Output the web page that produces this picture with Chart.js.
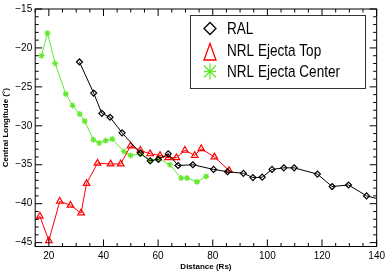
<!DOCTYPE html>
<html>
<head>
<meta charset="utf-8">
<script src="https://cdn.jsdelivr.net/npm/chart.js@4.4.0/dist/chart.umd.min.js"></script>
<style>
  html, body { margin: 0; padding: 0; background: #fff; }
</style>
</head>
<body>
<canvas id="c" width="389" height="272"></canvas>
<script>
// tick labels
const xTicks = [20, 40, 60, 80, 100, 120, 140];
const yTicks = [-45, -40, -35, -30, -25, -20, -15];

// RAL (last point lies past the axis and gets clipped)
const ralX = [31.2, 36.4, 39.4, 42.4, 46.8, 53.5, 57.1, 60.1, 63.7, 67.3, 72.7, 80.3, 85.4, 91.2, 94.7, 98.1, 101.7, 106.0, 109.8, 118.3, 123.7, 129.7, 136.3, 143.0];
const ralY = [-21.8, -25.8, -28.4, -28.9, -30.9, -33.5, -34.5, -34.3, -33.6, -35.1, -35.0, -35.6, -35.9, -36.1, -36.65, -36.6, -35.6, -35.4, -35.4, -36.2, -37.8, -37.6, -39.0, -39.6];

// NRL Ejecta Top (first point lies left of the axis)
const topX = [13.5, 16.7, 20.0, 24.0, 27.9, 31.8, 33.8, 37.8, 42.6, 46.3, 49.9, 53.5, 57.1, 60.7, 63.7, 66.7, 69.8, 73.4, 75.8, 80.6, 86.0];
const topY = [-42.6, -41.6, -44.75, -39.7, -40.2, -41.2, -37.4, -34.8, -34.9, -34.9, -32.6, -33.15, -33.6, -33.8, -34.1, -34.1, -33.15, -33.8, -32.95, -34.0, -35.75];

// NRL Ejecta Center
const ctrX = [17.3, 19.5, 22.3, 26.2, 28.7, 31.3, 33.1, 36.3, 38.4, 40.8, 43.2, 47.5, 49.9, 53.5, 57.1, 60.1, 64.3, 68.4, 70.6, 74.2, 77.6];
const ctrY = [-21.0, -18.1, -22.0, -25.9, -27.4, -28.5, -29.4, -31.8, -32.2, -31.9, -31.7, -33.3, -33.8, -33.6, -34.5, -34.2, -35.0, -36.7, -36.7, -37.2, -36.5];

const GREEN = '#62e82e';
const RED = '#ff0000';

const pts = (xs, ys) => xs.map((x, i) => ({ x: x, y: ys[i] }));
const minus = v => String(v).replace('-', '\u2212');

// inward ticks on all four sides, plus the frame
const frameTicks = {
  id: 'frameTicks',
  afterDraw(chart) {
    const { ctx, chartArea: a, scales: { x, y } } = chart;
    ctx.save();
    ctx.strokeStyle = '#000';
    ctx.lineWidth = 1;
    ctx.strokeRect(a.left, a.top, a.right - a.left, a.bottom - a.top);
    ctx.beginPath();
    for (let v = 15; v <= 140; v += 5) {
      const px = x.getPixelForValue(v);
      const len = xTicks.includes(v) ? 7 : 3.5;
      ctx.moveTo(px, a.bottom); ctx.lineTo(px, a.bottom - len);
      ctx.moveTo(px, a.top); ctx.lineTo(px, a.top + len);
    }
    for (let v = -45; v <= -15; v += 1) {
      const py = y.getPixelForValue(v);
      const len = yTicks.includes(v) ? 7 : 3.5;
      ctx.moveTo(a.left, py); ctx.lineTo(a.left + len, py);
      ctx.moveTo(a.right, py); ctx.lineTo(a.right - len, py);
    }
    ctx.stroke();
    ctx.restore();
  }
};

// boxed legend in the upper right
const legendLabels = ['RAL', 'NRL Ejecta Top', 'NRL Ejecta Center'];
const boxLegend = {
  id: 'boxLegend',
  afterDraw(chart) {
    const ctx = chart.ctx;
    const bx = 190, by = 15, bw = 175, bh = 73;
    ctx.save();
    ctx.fillStyle = '#fff';
    ctx.fillRect(bx, by, bw, bh);
    ctx.strokeStyle = '#333';
    ctx.lineWidth = 1;
    ctx.strokeRect(bx + 0.5, by + 0.5, bw, bh);

    const mx = 210;
    // diamond
    ctx.strokeStyle = '#000';
    ctx.lineWidth = 1.3;
    ctx.beginPath();
    ctx.moveTo(mx, 28.5 - 6); ctx.lineTo(mx + 6, 28.5); ctx.lineTo(mx, 28.5 + 6); ctx.lineTo(mx - 6, 28.5); ctx.closePath();
    ctx.stroke();
    // triangle
    ctx.strokeStyle = RED;
    ctx.beginPath();
    ctx.moveTo(mx, 43.5); ctx.lineTo(mx + 6, 60); ctx.lineTo(mx - 6, 60); ctx.closePath();
    ctx.stroke();
    // asterisk
    ctx.strokeStyle = GREEN;
    ctx.beginPath();
    const sy = 71.5;
    ctx.moveTo(mx, sy - 8); ctx.lineTo(mx, sy + 8);
    ctx.moveTo(mx - 6, sy); ctx.lineTo(mx + 6, sy);
    ctx.moveTo(mx - 6, sy - 6); ctx.lineTo(mx + 6, sy + 6);
    ctx.moveTo(mx - 6, sy + 6); ctx.lineTo(mx + 6, sy - 6);
    ctx.stroke();

    // condensed look: squeeze the text horizontally
    ctx.fillStyle = '#000';
    ctx.font = '17px "Liberation Sans", Arial, sans-serif';
    ctx.textBaseline = 'middle';
    ctx.textAlign = 'left';
    const sx = 113 / ctx.measureText(legendLabels[2]).width;
    ctx.translate(227, 0);
    ctx.scale(sx, 1);
    ctx.fillText(legendLabels[0], 0, 29);
    ctx.fillText(legendLabels[1], 0, 51);
    ctx.fillText(legendLabels[2], 0, 72);
    ctx.restore();
  }
};

new Chart(document.getElementById('c'), {
  type: 'line',
  data: {
    datasets: [
      {
        label: 'RAL',
        data: pts(ralX, ralY),
        borderColor: '#000',
        borderWidth: 1,
        pointStyle: 'rectRot',
        pointRadius: 3,
        pointBorderWidth: 1.2,
        pointBorderColor: '#000',
        pointBackgroundColor: 'rgba(0,0,0,0)'
      },
      {
        label: 'NRL Ejecta Top',
        data: pts(topX, topY),
        borderColor: RED,
        borderWidth: 1,
        pointStyle: 'triangle',
        pointRadius: 3.8,
        pointBorderWidth: 1.2,
        pointBorderColor: RED,
        pointBackgroundColor: 'rgba(0,0,0,0)'
      },
      {
        label: 'NRL Ejecta Center',
        data: pts(ctrX, ctrY),
        borderColor: GREEN,
        borderWidth: 1,
        pointStyle: 'star',
        pointRadius: 3,
        pointBorderWidth: 1.2,
        pointBorderColor: GREEN,
        pointBackgroundColor: GREEN
      }
    ]
  },
  options: {
    responsive: false,
    animation: false,
    events: [],
    layout: { padding: { top: 1, right: 8, left: 0, bottom: 0 } },
    elements: { line: { tension: 0 } },
    plugins: { legend: { display: false }, tooltip: { enabled: false } },
    scales: {
      x: {
        type: 'linear',
        min: 15,
        max: 140,
        afterBuildTicks: s => { s.ticks = xTicks.map(v => ({ value: v })); },
        afterFit: s => { s.height = 25.5; },
        grid: { display: false, drawTicks: false },
        border: { display: false },
        ticks: {
          padding: 4,
          color: '#000',
          maxRotation: 0,
          autoSkip: false,
          font: { family: 'Liberation Sans', size: 10 }
        },
        title: {
          display: true,
          text: 'Distance (Rs)',
          color: '#000',
          font: { family: 'Liberation Sans', size: 8, weight: 'bold' },
          padding: { top: 0, bottom: 0.5 }
        }
      },
      y: {
        type: 'linear',
        min: -45.5,
        max: -15,
        afterBuildTicks: s => { s.ticks = yTicks.map(v => ({ value: v })); },
        afterFit: s => { s.width = 35.2; },
        grid: { display: false, drawTicks: false },
        border: { display: false },
        ticks: {
          padding: 3,
          color: '#000',
          autoSkip: false,
          callback: v => minus(v),
          font: { family: 'Liberation Sans', size: 10 }
        },
        title: {
          display: true,
          text: 'Central Longitude (\u00b0)',
          color: '#000',
          font: { family: 'Liberation Sans', size: 8, weight: 'bold' },
          padding: { top: 1, bottom: 0 }
        }
      }
    }
  },
  plugins: [frameTicks, boxLegend]
});
</script>
</body>
</html>
